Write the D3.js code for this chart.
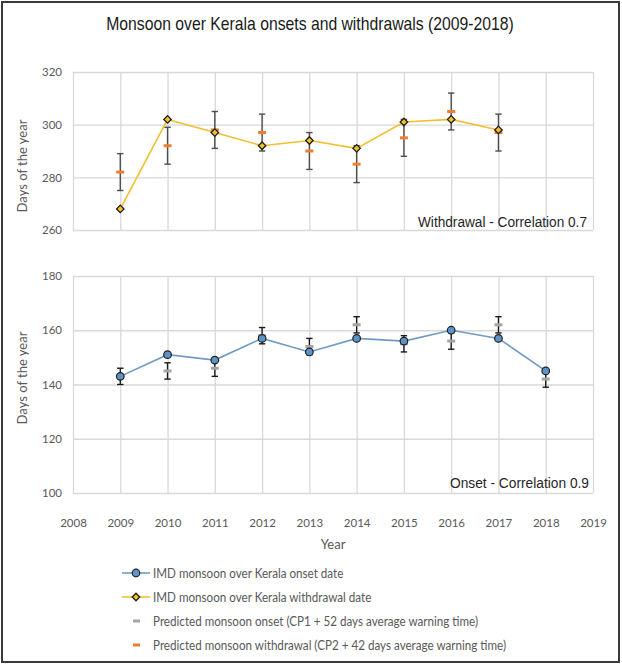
<!DOCTYPE html>
<html>
<head>
<meta charset="utf-8">
<script src="https://cdn.jsdelivr.net/npm/d3@7"></script>
<style>
  html, body { margin: 0; padding: 0; background: #fff; }
  svg { display: block; }
</style>
</head>
<body>
<svg id="chart" width="622" height="665"></svg>
<script>
// ---------------- DATA ----------------
const years = [2009, 2010, 2011, 2012, 2013, 2014, 2015, 2016, 2017, 2018];
const onsetIMD = [143, 151, 149, 157, 152, 157, 156, 160, 157, 145];
const onsetPred = [143, 145, 146, 158, 154, 162, 155, 156, 162, 142];
const onsetErr = [3, 3, 3, 3, 3, 3, 3, 3, 3, 3];
const withdrawalYears = [2009, 2010, 2011, 2012, 2013, 2014, 2015, 2016, 2017];
const withdrawalIMD = [268, 302, 297, 292, 294, 291, 301, 302, 298];
const withdrawalPred = [282, 292, 298, 297, 290, 285, 295, 305, 297];
const withdrawalErr = [7, 7, 7, 7, 7, 7, 7, 7, 7];
const xTicks = [2008, 2009, 2010, 2011, 2012, 2013, 2014, 2015, 2016, 2017, 2018, 2019];
const topTicks = [260, 280, 300, 320];
const bottomTicks = [100, 120, 140, 160, 180];
const legendLabels = [
  "IMD monsoon over Kerala onset date",
  "IMD monsoon over Kerala withdrawal date",
  "Predicted monsoon onset (CP1 + 52 days average warning time)",
  "Predicted monsoon withdrawal (CP2 + 42 days average warning time)"
];
const titleText = "Monsoon over Kerala onsets and withdrawals (2009-2018)";

// ---------------- STYLE ----------------
const C = {
  grid: "#d9d9d9",
  tick: "#595959",
  onsetLine: "#6f9cc4",
  onsetFill: "#5f93c8",
  wdLine: "#f0c030",
  wdFill: "#f5c12a",
  markerStroke: "#1f1f1f",
  predOnset: "#a5a5a5",
  predWd: "#ed7d31",
  errTop: "#4d4d4d",
  errBot: "#1a1a1a"
};
const uiFont = "Lato, 'Open Sans', sans-serif";
const arialFont = "'Liberation Sans', Arial, sans-serif";

const svg = d3.select("#chart");

// frame
svg.append("rect").attr("x", 2).attr("y", 2).attr("width", 617).attr("height", 660)
  .attr("fill", "#fff").attr("stroke", "#3a3a3a").attr("stroke-width", 2);

// scales
const x = d3.scaleLinear().domain([2008, 2019]).range([73, 593]);
const yTop = d3.scaleLinear().domain([260, 320]).range([230, 72]);
const yBot = d3.scaleLinear().domain([100, 180]).range([493, 276]);

function drawGrid(y, ticks) {
  const g = svg.append("g");
  const ay = g.append("g").attr("transform", `translate(${x.range()[0]},0)`)
    .call(d3.axisLeft(y).tickValues(ticks).tickSize(-(x.range()[1] - x.range()[0])).tickPadding(11).tickFormat(d3.format("d")));
  ay.select(".domain").remove();
  ay.selectAll(".tick line").attr("stroke", C.grid).attr("stroke-width", 1.3);
  ay.selectAll(".tick text").attr("fill", C.tick).style("font-family", uiFont).style("font-size", "11.5px");
  const ax = g.append("g").attr("transform", `translate(0,${y.range()[0]})`)
    .call(d3.axisBottom(x).tickValues(xTicks).tickSize(-(y.range()[0] - y.range()[1])).tickFormat(""));
  ax.select(".domain").remove();
  ax.selectAll(".tick line").attr("stroke", C.grid).attr("stroke-width", 1.3);
  return g;
}

drawGrid(yTop, topTicks);
drawGrid(yBot, bottomTicks);

// x-axis labels (bottom only)
const axLab = svg.append("g").attr("transform", `translate(0,${yBot.range()[0]})`)
  .call(d3.axisBottom(x).tickValues(xTicks).tickSize(0).tickPadding(26).tickFormat(d3.format("d")));
axLab.select(".domain").remove();
axLab.selectAll(".tick text").attr("fill", C.tick).style("font-family", uiFont).style("font-size", "11.5px");

// error bars + predicted dashes
function drawPred(yrs, pred, err, y, errColor, dashColor) {
  const g = svg.append("g");
  const cap = 3.2;
  yrs.forEach((yr, i) => {
    const cx = x(yr), y1 = y(pred[i] + err[i]), y2 = y(pred[i] - err[i]);
    g.append("line").attr("x1", cx).attr("x2", cx).attr("y1", y1).attr("y2", y2)
      .attr("stroke", errColor).attr("stroke-width", 1.4);
    [y1, y2].forEach(yy => g.append("line").attr("x1", cx - cap).attr("x2", cx + cap)
      .attr("y1", yy).attr("y2", yy).attr("stroke", errColor).attr("stroke-width", 1.4));
    g.append("line").attr("x1", cx - 4).attr("x2", cx + 4).attr("y1", y(pred[i])).attr("y2", y(pred[i]))
      .attr("stroke", dashColor).attr("stroke-width", 3);
  });
}
drawPred(withdrawalYears, withdrawalPred, withdrawalErr, yTop, C.errTop, C.predWd);
drawPred(years, onsetPred, onsetErr, yBot, C.errBot, C.predOnset);

// lines
const lineTop = d3.line().x((d, i) => x(withdrawalYears[i])).y(d => yTop(d));
svg.append("path").datum(withdrawalIMD).attr("d", lineTop).attr("fill", "none")
  .attr("stroke", C.wdLine).attr("stroke-width", 1.6);
const lineBot = d3.line().x((d, i) => x(years[i])).y(d => yBot(d));
svg.append("path").datum(onsetIMD).attr("d", lineBot).attr("fill", "none")
  .attr("stroke", C.onsetLine).attr("stroke-width", 1.6);

// markers
const diamond = d3.symbol().type(d3.symbolSquare).size(28);
svg.append("g").selectAll("path").data(withdrawalIMD).join("path")
  .attr("d", diamond)
  .attr("transform", (d, i) => `translate(${x(withdrawalYears[i])},${yTop(d)}) rotate(45)`)
  .attr("fill", C.wdFill).attr("stroke", C.markerStroke).attr("stroke-width", 1.3);
svg.append("g").selectAll("circle").data(onsetIMD).join("circle")
  .attr("cx", (d, i) => x(years[i])).attr("cy", d => yBot(d)).attr("r", 3.8)
  .attr("fill", C.onsetFill).attr("stroke", C.markerStroke).attr("stroke-width", 1.2);

// title (natural width, horizontally condensed via scale to match reference)
const title = svg.append("text").attr("x", 0).attr("y", 0).attr("text-anchor", "middle").text(titleText)
  .attr("fill", "#1a1a1a").style("font-family", arialFont).style("font-size", "19px");
const tw = title.node().getComputedTextLength();
title.attr("transform", `translate(310,30) scale(${Math.min(1, 408 / tw)},1)`);

// annotations
svg.append("text").attr("x", 418).attr("y", 227).text("Withdrawal - Correlation 0.7")
  .attr("fill", "#262626").style("font-family", arialFont).style("font-size", "15.5px")
  .attr("textLength", 169).attr("lengthAdjust", "spacingAndGlyphs");
svg.append("text").attr("x", 450).attr("y", 488).text("Onset - Correlation 0.9")
  .attr("fill", "#262626").style("font-family", arialFont).style("font-size", "15.5px")
  .attr("textLength", 139).attr("lengthAdjust", "spacingAndGlyphs");

// y-axis titles
[[yTop, 166], [yBot, 378]].forEach(([y, cy]) => {
  svg.append("text").attr("transform", `translate(27,${cy}) rotate(-90)`)
    .attr("text-anchor", "middle").text("Days of the year")
    .attr("fill", C.tick).style("font-family", uiFont).style("font-size", "13px");
});

// x-axis title
svg.append("text").attr("x", 333).attr("y", 549).attr("text-anchor", "middle").text("Year")
  .attr("fill", C.tick).style("font-family", uiFont).style("font-size", "13px");

// legend
const legendRowY = [573, 597, 621, 645];
const lg = svg.append("g");
legendLabels.forEach((lab, i) => {
  const ly = legendRowY[i];
  if (i === 0) {
    lg.append("line").attr("x1", 122).attr("x2", 150).attr("y1", ly).attr("y2", ly)
      .attr("stroke", C.onsetLine).attr("stroke-width", 1.6);
    lg.append("circle").attr("cx", 136).attr("cy", ly).attr("r", 3.8)
      .attr("fill", C.onsetFill).attr("stroke", C.markerStroke).attr("stroke-width", 1.2);
  } else if (i === 1) {
    lg.append("line").attr("x1", 122).attr("x2", 150).attr("y1", ly).attr("y2", ly)
      .attr("stroke", C.wdLine).attr("stroke-width", 1.6);
    lg.append("path").attr("d", diamond).attr("transform", `translate(136,${ly}) rotate(45)`)
      .attr("fill", C.wdFill).attr("stroke", C.markerStroke).attr("stroke-width", 1.3);
  } else {
    lg.append("line").attr("x1", 133).attr("x2", 140).attr("y1", ly).attr("y2", ly)
      .attr("stroke", i === 2 ? C.predOnset : C.predWd).attr("stroke-width", 3);
  }
  lg.append("text").attr("class", "lgt").attr("x", 153).attr("y", ly + 4.5).text(lab)
    .attr("fill", C.tick).style("font-family", uiFont).style("font-size", "12.5px");
});
const lgTexts = lg.selectAll("text.lgt").nodes();
const longest = lgTexts[3].getComputedTextLength();
const k = 353 / longest;
lgTexts.forEach(n => {
  const w = n.getComputedTextLength();
  d3.select(n).attr("textLength", w * k).attr("lengthAdjust", "spacingAndGlyphs");
});
</script>
</body>
</html>
